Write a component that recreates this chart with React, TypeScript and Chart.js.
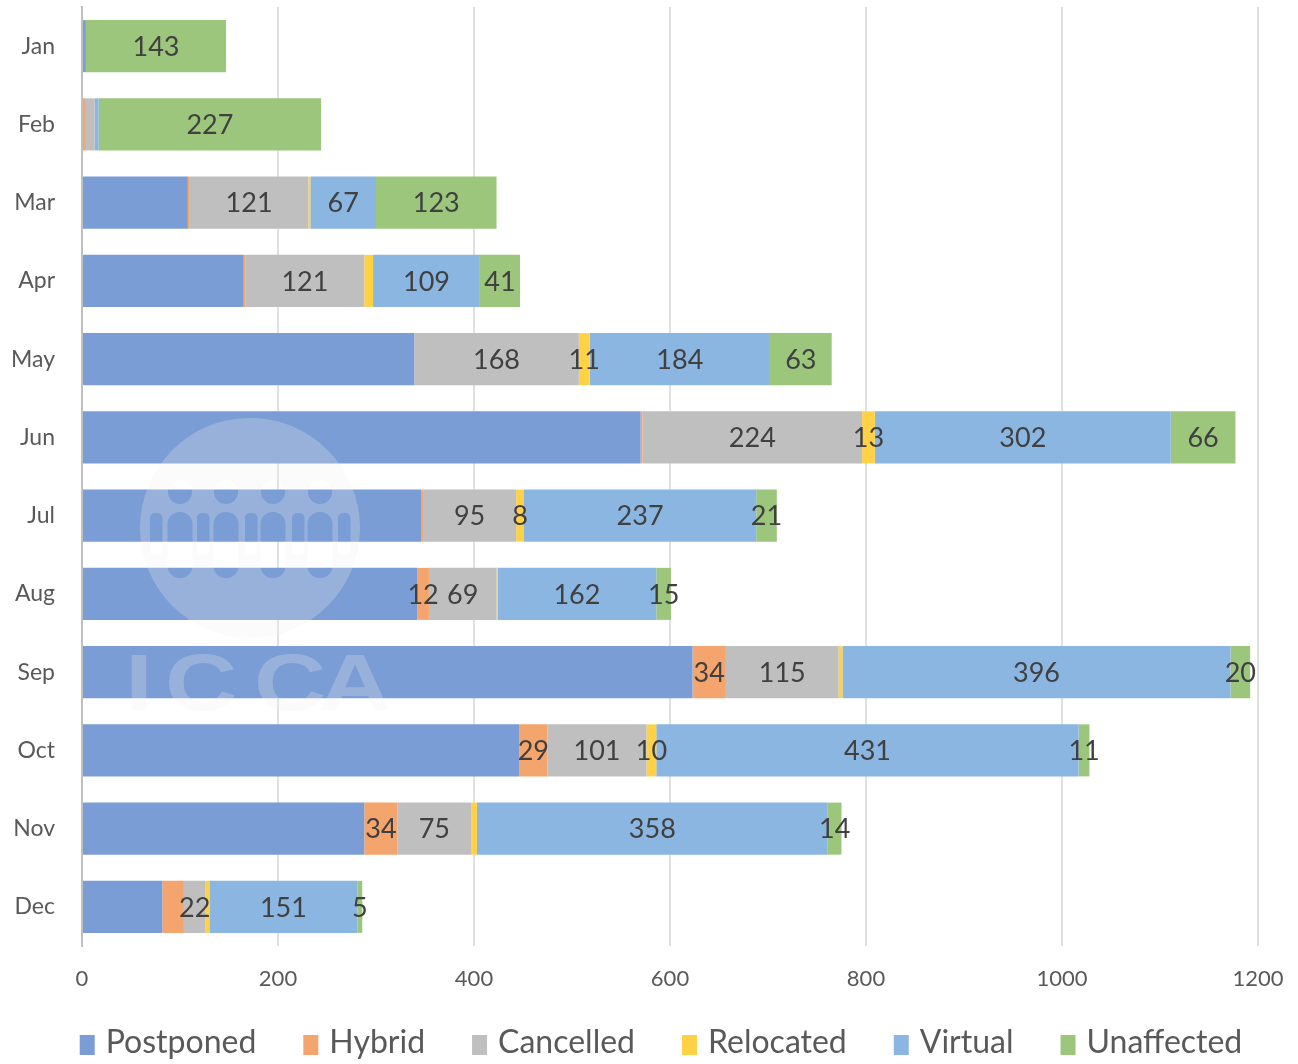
import React, { useEffect, useRef } from "react";
import { Chart, registerables } from "chart.js";

Chart.register(...registerables);

const months = ["Jan", "Feb", "Mar", "Apr", "May", "Jun", "Jul", "Aug", "Sep", "Oct", "Nov", "Dec"];

const postponed = [4, 0, 108, 165, 339, 570, 346, 342, 623, 446, 288, 82];
const hybrid = [0, 4, 2, 2, 0, 2, 2, 12, 34, 29, 34, 22];
const cancelled = [0, 9, 121, 121, 168, 224, 95, 69, 115, 101, 75, 22];
const relocated = [0, 0, 2, 9, 11, 13, 8, 1, 4, 10, 6, 4];
const virtual = [0, 4, 67, 109, 184, 302, 237, 162, 396, 431, 358, 151];
const unaffected = [143, 227, 123, 41, 63, 66, 21, 15, 20, 11, 14, 5];

const seriesNames = ["Postponed", "Hybrid", "Cancelled", "Relocated", "Virtual", "Unaffected"];
const seriesValues = [postponed, hybrid, cancelled, relocated, virtual, unaffected];
const seriesColors = ["#7b9dd5", "#f4a46d", "#bfbfbf", "#ffd246", "#8ab6e1", "#9cc67c"];

// months whose segment shows a value label, per series
const postponedLabelMonths: string[] = [];
const hybridLabelMonths = ["Aug", "Sep", "Oct", "Nov"];
const cancelledLabelMonths = ["Mar", "Apr", "May", "Jun", "Jul", "Aug", "Sep", "Oct", "Nov", "Dec"];
const relocatedLabelMonths = ["May", "Jun", "Jul", "Oct"];
const virtualLabelMonths = ["Mar", "Apr", "May", "Jun", "Jul", "Aug", "Sep", "Oct", "Nov", "Dec"];
const unaffectedLabelMonths = months;
const labelMonths = [
  postponedLabelMonths,
  hybridLabelMonths,
  cancelledLabelMonths,
  relocatedLabelMonths,
  virtualLabelMonths,
  unaffectedLabelMonths,
];

const xMin = 0;
const xMax = 1200;
const xStep = 200;

const FONT = "Lato, 'Open Sans', sans-serif";

const dataLabelPlugin = {
  id: "segLabels",
  afterDatasetsDraw(chart: any) {
    const ctx = chart.ctx;
    ctx.save();
    ctx.font = `27px ${FONT}`;
    ctx.fillStyle = "#404040";
    ctx.textAlign = "center";
    ctx.textBaseline = "middle";
    chart.data.datasets.forEach((ds: any, di: number) => {
      const meta = chart.getDatasetMeta(di);
      const show = labelMonths[di];
      meta.data.forEach((bar: any, i: number) => {
        if (!show.includes(months[i])) return;
        const p = bar.getProps(["x", "base", "y"], true);
        ctx.fillText(String(ds.data[i]), (p.x + p.base) / 2, p.y + 1);
      });
    });
    ctx.restore();
  },
};

const legendPlugin = {
  id: "customLegend",
  afterDraw(chart: any) {
    const ctx = chart.ctx;
    ctx.save();
    ctx.font = `32px ${FONT}`;
    ctx.textBaseline = "middle";
    ctx.textAlign = "left";
    const boxW = 15;
    const boxH = 20;
    const gapText = 11;
    const gapItem = 47;
    const items = chart.data.datasets.map((ds: any) => ({
      text: ds.label,
      color: ds.backgroundColor,
      w: ctx.measureText(ds.label).width,
    }));
    const total =
      items.reduce((s: number, it: any) => s + boxW + gapText + it.w, 0) + gapItem * (items.length - 1);
    let x = 661 - total / 2;
    const textY = 1043;
    items.forEach((it: any) => {
      ctx.fillStyle = it.color;
      ctx.fillRect(x, 1035, boxW, boxH);
      ctx.fillStyle = "#595959";
      ctx.fillText(it.text, x + boxW + gapText, textY);
      x += boxW + gapText + it.w + gapItem;
    });
    ctx.restore();
  },
};

const watermarkPlugin = {
  id: "watermark",
  afterDraw(chart: any) {
    const ctx = chart.ctx;
    const cx = 250;
    const cy = 528;
    const r = 110;
    ctx.save();
    ctx.fillStyle = "rgba(238,238,238,0.25)";
    ctx.beginPath();
    ctx.arc(cx, cy, r, 0, Math.PI * 2);
    const heads = [-70, -24, 23, 70];
    heads.forEach((dx) => {
      ctx.moveTo(cx + dx + 12, cy - 36);
      ctx.arc(cx + dx, cy - 36, 12, 0, Math.PI * 2);
      ctx.roundRect(cx + dx - 12.5, cy - 16, 25, 66, 12);
    });
    const arms = [-100, -53, -5, 42, 88];
    arms.forEach((dx) => {
      ctx.roundRect(cx + dx, cy - 15, 12.5, 42, 5);
    });
    ctx.fill("evenodd");

    ctx.font = `bold 80px 'Liberation Sans', sans-serif`;
    ctx.textAlign = "center";
    ctx.textBaseline = "alphabetic";
    const letters = [
      ["I", 139],
      ["C", 201],
      ["C", 290],
      ["A", 355],
    ];
    letters.forEach(([ch, x]) => {
      ctx.save();
      ctx.translate(x as number, 710);
      ctx.scale(1.25, 1);
      ctx.fillText(ch as string, 0, 0);
      ctx.restore();
    });
    ctx.restore();
  },
};

export default function App() {
  const ref = useRef<HTMLCanvasElement | null>(null);

  useEffect(() => {
    if (!ref.current) return;
    const chart = new Chart(ref.current, {
      type: "bar",
      data: {
        labels: months,
        datasets: seriesNames.map((name, i) => ({
          label: name,
          data: seriesValues[i],
          backgroundColor: seriesColors[i],
          borderWidth: 0,
          barPercentage: 0.665,
          categoryPercentage: 1,
        })),
      },
      options: {
        indexAxis: "y",
        responsive: false,
        animation: false,
        devicePixelRatio: 1,
        layout: { padding: { top: 7, right: 40, left: 0, bottom: 77 } },
        plugins: {
          legend: { display: false },
          tooltip: { enabled: false },
        },
        scales: {
          x: {
            stacked: true,
            min: xMin,
            max: xMax,
            z: 1,
            ticks: {
              stepSize: xStep,
              font: { family: FONT, size: 22 },
              color: "#595959",
              padding: 20,
              callback: (v: any) => String(v),
            },
            grid: {
              color: "rgba(0,0,0,0.12)",
              lineWidth: 2,
              drawTicks: false,
            },
            border: { display: false },
            afterFit: (scale: any) => {
              scale.height = 41;
              scale.paddingLeft = 0;
              scale.paddingRight = 0;
            },
          },
          y: {
            stacked: true,
            ticks: {
              font: { family: FONT, size: 23 },
              color: "#595959",
              padding: 27,
            },
            grid: { display: false, drawTicks: false },
            border: { display: true, color: "#bfbfbf", width: 2 },
            afterFit: (scale: any) => {
              scale.width = 82;
              scale.paddingTop = 0;
              scale.paddingBottom = 0;
            },
          },
        },
      },
      plugins: [dataLabelPlugin, legendPlugin, watermarkPlugin],
    } as any);
    return () => chart.destroy();
  }, []);

  return (
    <div
      style={{
        position: "absolute",
        left: 0,
        top: 0,
        width: 1298,
        height: 1064,
        overflow: "hidden",
        background: "#fff",
      }}
    >
      <canvas ref={ref} width={1298} height={1064} style={{ display: "block" }} />
    </div>
  );
}
